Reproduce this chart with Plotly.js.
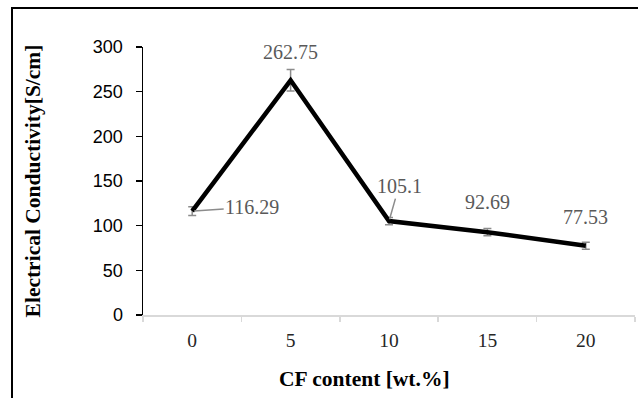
<!DOCTYPE html>
<html>
<head>
<meta charset="utf-8">
<script src="https://cdn.plot.ly/plotly-3.0.1.min.js"></script>
<style>
  html, body { margin: 0; padding: 0; background: #fff; overflow: hidden; }
  #wrap { position: relative; width: 638px; height: 398px; }
  #chart { position: absolute; left: 0; top: 0; width: 638px; height: 398px; }
  #frame { position: absolute; left: 11px; top: 7px; width: 700px; height: 500px;
           border-left: 2px solid #000; border-top: 2px solid #000; pointer-events: none; }
</style>
</head>
<body>
<div id="wrap">
  <div id="chart"></div>
  <div id="frame"></div>
</div>
<script>
const categories = ['0', '5', '10', '15', '20'];
const conductivity = [116.29, 262.75, 105.1, 92.69, 77.53];
const errors = [5, 12, 4, 4, 4];
const labels = ['116.29', '262.75', '105.1', '92.69', '77.53'];
const yTicks = [0, 50, 100, 150, 200, 250, 300];
const xTitle = 'CF content [wt.%]';
const yTitle = 'Electrical Conductivity[S/cm]';

const trace = {
  type: 'scatter',
  mode: 'lines',
  x: categories,
  y: conductivity,
  line: { color: '#000000', width: 4.5 },
  error_y: { type: 'data', array: errors, visible: true, color: '#8c8c8c', thickness: 1.5, width: 4 },
  hoverinfo: 'skip'
};

const labelStyle = [
  { arrow: true, ax: 60, ay: -4 },
  { arrow: false, yshift: 28 },
  { arrow: true, ax: 10, ay: -35 },
  { arrow: false, yshift: 30 },
  { arrow: false, yshift: 29 }
];

const annotations = categories.map((c, i) => {
  const s = labelStyle[i];
  const a = {
    x: i, y: conductivity[i], xref: 'x', yref: 'y',
    text: labels[i],
    font: { family: 'Liberation Serif, Times New Roman, serif', size: 20, color: '#595959' },
    showarrow: s.arrow
  };
  if (s.arrow) {
    a.ax = s.ax; a.ay = s.ay; a.arrowhead = 0; a.arrowwidth = 1.5; a.arrowcolor = '#8c8c8c';
    a.standoff = 2;
  } else {
    a.yshift = s.yshift;
  }
  return a;
});

annotations.push({
  xref: 'paper', yref: 'paper', x: 0.451, y: -0.238,
  xanchor: 'center', yanchor: 'middle', showarrow: false,
  text: '<b>' + xTitle + '</b>',
  font: { family: 'Liberation Serif, Times New Roman, serif', size: 21.5, color: '#000' }
});

const layout = {
  width: 638, height: 398,
  margin: { l: 143, r: 3, t: 47, b: 83 },
  paper_bgcolor: '#ffffff', plot_bgcolor: '#ffffff',
  showlegend: false,
  xaxis: {
    type: 'category',
    range: [-0.5, 4.5],
    tickson: 'boundaries',
    ticks: 'outside', ticklen: 5, tickcolor: '#d9d9d9', tickwidth: 1.5,
    showline: true, linecolor: '#d9d9d9', linewidth: 2,
    showgrid: false, zeroline: false,
    tickfont: { family: 'Liberation Serif, Times New Roman, serif', size: 19.5, color: '#262626' },
    ticklabelstandoff: 7
  },
  yaxis: {
    range: [0, 300],
    tickvals: yTicks,
    ticktext: yTicks.map(String),
    ticks: 'outside', ticklen: 6, tickcolor: '#000', tickwidth: 1.5,
    showline: true, linecolor: '#000', linewidth: 1.5,
    showgrid: false, zeroline: false,
    tickfont: { family: 'Liberation Sans, Arial, sans-serif', size: 18, color: '#000' },
    ticklabelstandoff: 9,
    title: { text: yTitle, standoff: 46,
             font: { family: 'Liberation Serif, Times New Roman, serif', size: 21.5, color: '#000', weight: 'bold' } }
  },
  annotations: annotations
};

Plotly.newPlot('chart', [trace], layout, { displayModeBar: false, staticPlot: true });
</script>
</body>
</html>
